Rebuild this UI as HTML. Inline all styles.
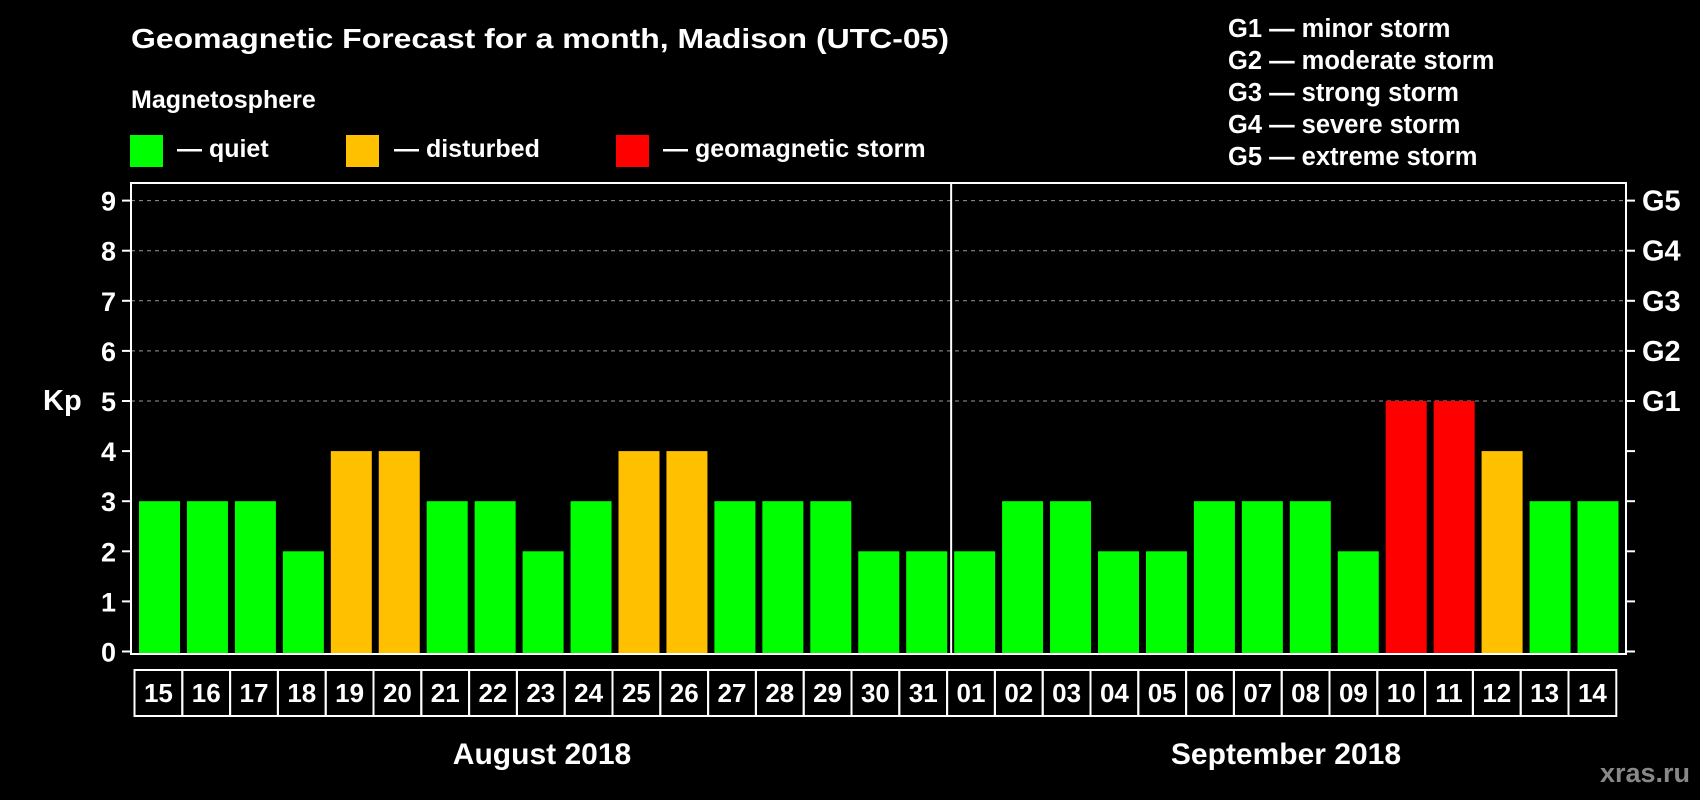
<!DOCTYPE html>
<html><head><meta charset="utf-8"><style>
html,body{margin:0;padding:0;background:#000;}
svg{display:block;font-family:"Liberation Sans",sans-serif;font-weight:bold;}
</style></head><body>
<svg id="chart" width="1700" height="800" viewBox="0 0 1700 800">
<rect width="1700" height="800" fill="#000"/>
<text x="131" y="48" fill="#fff" font-size="28" textLength="818" lengthAdjust="spacingAndGlyphs">Geomagnetic Forecast for a month, Madison (UTC-05)</text>
<text x="131" y="108" fill="#fff" font-size="25">Magnetosphere</text>
<g><rect x="130" y="135" width="33" height="32" fill="#00ff00"/><text x="177" y="157" fill="#fff" font-size="25">— quiet</text></g>
<g><rect x="346" y="135" width="33" height="32" fill="#ffc000"/><text x="394" y="157" fill="#fff" font-size="25">— disturbed</text></g>
<g><rect x="616" y="135" width="33" height="32" fill="#ff0000"/><text x="663" y="157" fill="#fff" font-size="25">— geomagnetic storm</text></g>
<g fill="#fff" font-size="25.5">
<text x="1228" y="37">G1 — minor storm</text>
<text x="1228" y="69">G2 — moderate storm</text>
<text x="1228" y="101">G3 — strong storm</text>
<text x="1228" y="133">G4 — severe storm</text>
<text x="1228" y="165">G5 — extreme storm</text>
</g>
<text x="43" y="410" fill="#fff" font-size="29">Kp</text>
<g id="grid"></g><g id="bars"></g><g id="axes"></g><g id="labels"></g>
<text x="542" y="764" fill="#fff" font-size="30" text-anchor="middle">August 2018</text>
<text x="1286" y="764" fill="#fff" font-size="30" text-anchor="middle">September 2018</text>
<text x="1690" y="782" fill="#888" font-size="27" text-anchor="end">xras.ru</text>
</svg>
<script>
const days = ["15","16","17","18","19","20","21","22","23","24","25","26","27","28","29","30","31","01","02","03","04","05","06","07","08","09","10","11","12","13","14"];
const kpValues = [3,3,3,2,4,4,3,3,2,3,4,4,3,3,3,2,2,2,3,3,2,2,3,3,3,2,5,5,4,3,3];
const yTicks = [0,1,2,3,4,5,6,7,8,9];
const gLabels = ["G1","G2","G3","G4","G5"];
const NS="http://www.w3.org/2000/svg";
const L=131,R=1626,T=183,B=654,x0=139,pitch=47.95,bw=41;
const y=v=>651.5-v*50.1;
const xs=i=>x0+i*pitch;
function mk(t,a,p){const e=document.createElementNS(NS,t);for(const k in a)e.setAttribute(k,a[k]);p.appendChild(e);return e;}
const grid=document.getElementById('grid'),bars=document.getElementById('bars'),axes=document.getElementById('axes'),labels=document.getElementById('labels');
yTicks.forEach(v=>{
  if(v>=5){const g=mk('line',{x1:L,x2:R,y1:y(v),y2:y(v),stroke:'#999','stroke-width':1,'stroke-dasharray':'4,4'},grid);
  
  }
  mk('line',{x1:L-9,x2:L,y1:y(v),y2:y(v),stroke:'#fff','stroke-width':2},axes);
  mk('line',{x1:R,x2:R+9,y1:y(v),y2:y(v),stroke:'#fff','stroke-width':2},axes);
  const t=mk('text',{x:116,y:y(v)+10,fill:'#fff','font-size':27,'text-anchor':'end'},axes);t.textContent=v;
  
  
});
gLabels.forEach((g,i)=>{const t=mk('text',{x:1642,y:y(5+i)+10,fill:'#fff','font-size':29},axes);t.textContent=g;
  
  });
kpValues.forEach((v,i)=>{
  const c=v>=5?'#ff0000':(v>=4?'#ffc000':'#00ff00');
  const b=mk('rect',{x:xs(i),y:y(v),width:bw,height:B-1-y(v),fill:c},bars);
  
  
  const cx=134.5+i*47.8;
  const cell=mk('rect',{x:cx,y:670,width:47.8,height:46,fill:'none',stroke:'#fff','stroke-width':2},labels);
  
  
  const t=mk('text',{x:cx+23.9,y:702,fill:'#fff','font-size':26,'text-anchor':'middle'},labels);t.textContent=days[i];
  
  
});
mk('rect',{x:L,y:T,width:R-L,height:B-T,fill:'none',stroke:'#fff','stroke-width':2},axes);
const sep=mk('line',{x1:xs(17)-3,x2:xs(17)-3,y1:T,y2:B,stroke:'#fff','stroke-width':2},axes);


</script>
</body></html>
